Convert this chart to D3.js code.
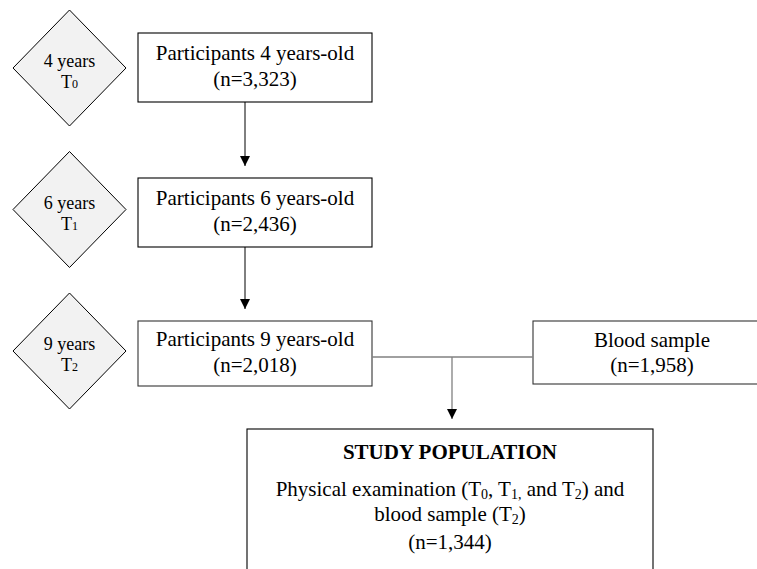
<!DOCTYPE html>
<html>
<head>
<meta charset="utf-8">
<script src="https://cdn.jsdelivr.net/npm/d3@7"></script>
<style>
  body { margin: 0; background: #fff; }
  svg { display: block; font-family: "Liberation Serif", "Times New Roman", serif; }
</style>
</head>
<body>
<svg id="chart" width="757" height="569"></svg>
<script>
// Flow data
const ages = ["4", "6", "9"];
const timeIdx = ["0", "1", "2"];
const counts = ["3,323", "2,436", "2,018"];
const bloodCount = "1,958";
const studyCount = "1,344";

const svg = d3.select("#chart");

// row positions (diamond centres)
const y = d3.scaleLinear().domain([0, 2]).range([68, 351]);
const boxTop = [33, 178, 321], boxH = [69, 69, 65];
const boxX0 = 138, boxX1 = 372, arrowX = 245;

const defs = svg.append("defs");
defs.append("marker").attr("id", "tri").attr("viewBox", "0 0 10 10")
  .attr("refX", 10).attr("refY", 5).attr("markerWidth", 11).attr("markerHeight", 10)
  .attr("markerUnits", "userSpaceOnUse").attr("orient", "auto")
  .append("path").attr("d", "M0,0 L10,5 L0,10 Z").attr("fill", "#000");

// diamonds
const dg = svg.append("g").selectAll("g").data(ages).join("g")
  .attr("transform", (d, i) => `translate(69.5,${y(i)})`);
dg.append("path").attr("d", "M0,-58 L56.5,0 L0,58 L-56.5,0 Z")
  .attr("fill", "#f2f2f2").attr("stroke", "#000").attr("stroke-width", 1);
dg.append("text").attr("text-anchor", "middle").attr("y", -1)
  .attr("font-size", 18).text(d => `${d} years`);
const tt = dg.append("text").attr("text-anchor", "middle").attr("y", 20).attr("font-size", 18);
tt.append("tspan").text("T");
tt.append("tspan").attr("font-size", 12).text((d, i) => timeIdx[i]);

// participant boxes
const bg = svg.append("g").selectAll("g").data(counts).join("g");
bg.append("rect")
  .attr("x", boxX0).attr("y", (d, i) => boxTop[i])
  .attr("width", boxX1 - boxX0).attr("height", (d, i) => boxH[i])
  .attr("fill", "#fff").attr("stroke", (d, i) => i === 2 ? "#333" : "#000").attr("stroke-width", 1.1);
bg.append("text").attr("text-anchor", "middle").attr("x", (boxX0 + boxX1) / 2)
  .attr("y", (d, i) => boxTop[i] + boxH[i] / 2 - 8).attr("font-size", 21)
  .text((d, i) => `Participants ${ages[i]} years-old`);
bg.append("text").attr("text-anchor", "middle").attr("x", (boxX0 + boxX1) / 2)
  .attr("y", (d, i) => boxTop[i] + boxH[i] / 2 + 18).attr("font-size", 21)
  .text(d => `(n=${d})`);

// arrows between rows
svg.append("g").selectAll("line").data([0, 1]).join("line")
  .attr("x1", arrowX).attr("x2", arrowX)
  .attr("y1", i => boxTop[i] + boxH[i]).attr("y2", i => boxTop[i + 1] - 12)
  .attr("stroke", "#000").attr("stroke-width", 1).attr("marker-end", "url(#tri)");

// blood sample box
const bx0 = 533, bx1 = 771, bTop = 321, bH = 63;
svg.append("rect").attr("x", bx0).attr("y", bTop).attr("width", bx1 - bx0).attr("height", bH)
  .attr("fill", "#fff").attr("stroke", "#333").attr("stroke-width", 1.1);
svg.append("text").attr("text-anchor", "middle").attr("x", (bx0 + bx1) / 2).attr("y", bTop + bH / 2 - 6)
  .attr("font-size", 21).text("Blood sample");
svg.append("text").attr("text-anchor", "middle").attr("x", (bx0 + bx1) / 2).attr("y", bTop + bH / 2 + 19)
  .attr("font-size", 21).text(`(n=${bloodCount})`);

// join connector
const joinY = 357, joinX = 452;
svg.append("line").attr("x1", boxX1).attr("x2", bx0).attr("y1", joinY).attr("y2", joinY)
  .attr("stroke", "#808080").attr("stroke-width", 1.6);
svg.append("line").attr("x1", joinX).attr("x2", joinX).attr("y1", joinY).attr("y2", 419)
  .attr("stroke", "#808080").attr("stroke-width", 1.3).attr("marker-end", "url(#tri)");

// study population box
const sx0 = 247, sx1 = 653, sTop = 429, cx = (sx0 + sx1) / 2;
svg.append("rect").attr("x", sx0).attr("y", sTop).attr("width", sx1 - sx0).attr("height", 200)
  .attr("fill", "#fff").attr("stroke", "#000").attr("stroke-width", 1.1);
svg.append("text").attr("text-anchor", "middle").attr("x", cx).attr("y", 459)
  .attr("font-size", 21).attr("font-weight", "bold").text("STUDY POPULATION");

const l1 = svg.append("text").attr("text-anchor", "middle").attr("x", cx).attr("y", 496).attr("font-size", 21);
const sub = (s, after) => {
  l1.append("tspan").text("T");
  l1.append("tspan").attr("font-size", 14).attr("dy", 3).text(s);
  l1.append("tspan").attr("dy", -3).text(after);
};
l1.append("tspan").text("Physical examination (");
sub(timeIdx[0], ", ");
sub(timeIdx[1] + ",", " and ");
sub(timeIdx[2], ") and");

const l2 = svg.append("text").attr("text-anchor", "middle").attr("x", cx).attr("y", 521).attr("font-size", 21);
l2.append("tspan").text("blood sample (T");
l2.append("tspan").attr("font-size", 14).attr("dy", 3).text(timeIdx[2]);
l2.append("tspan").attr("dy", -3).text(")");

svg.append("text").attr("text-anchor", "middle").attr("x", cx).attr("y", 549)
  .attr("font-size", 21).text(`(n=${studyCount})`);
</script>
</body>
</html>
